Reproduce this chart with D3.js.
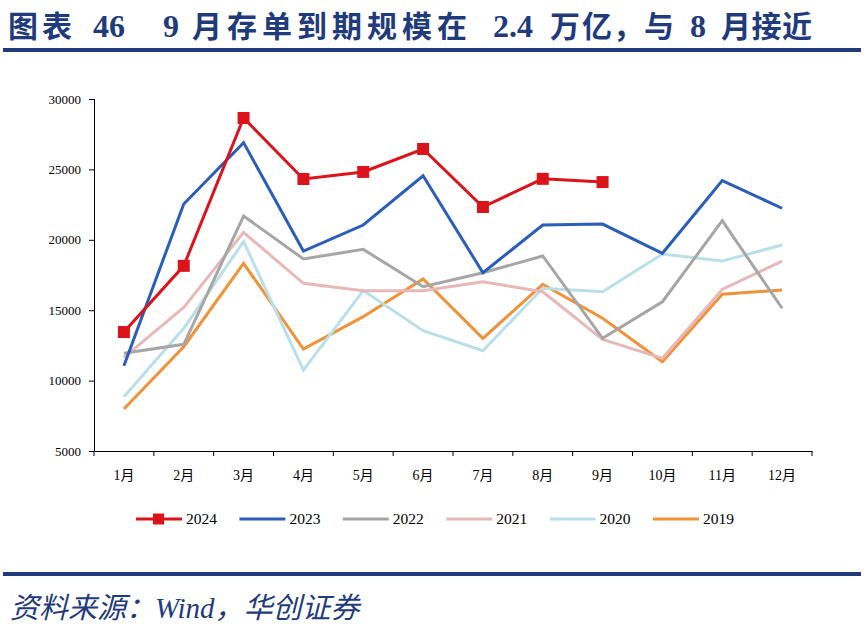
<!DOCTYPE html>
<html><head><meta charset="utf-8">
<script src="https://cdn.jsdelivr.net/npm/d3@7"></script>
<style>body{margin:0;background:#fff;} svg{display:block;} text{white-space:pre;}</style>
</head><body>
<script>
const months = ["1月","2月","3月","4月","5月","6月","7月","8月","9月","10月","11月","12月"];
const yTicks = [5000,10000,15000,20000,25000,30000];
const years = ["2024","2023","2022","2021","2020","2019"];
const colors = ["#DB141C","#2A5EB8","#A6A6A6","#E6B9B8","#B9DFE8","#F09239"];
const v2024 = [13450,18150,28650,24320,24820,26450,22330,24330,24100];
const v2023 = [11060,22540,26900,19200,21050,24550,17660,21050,21120,19040,24200,22240];
const v2022 = [11940,12580,21690,18640,19320,16670,17660,18850,13000,15600,21360,15140];
const v2021 = [11650,15200,20530,16910,16390,16390,17020,16310,12930,11580,16480,18490];
const v2020 = [8860,13710,19870,10750,16390,13540,12120,16560,16310,18990,18490,19630];
const v2019 = [7980,12410,18330,12240,14540,17220,13000,16840,14430,11340,16130,16440];
const seriesValues = [v2024,v2023,v2022,v2021,v2020,v2019];
const titleParts = ["图表","46","9","月存单到期规模在","2.4","万亿","，","与","8","月接近"];
const titleX = [8,93,163,192,493,550,613,644,690,721];
const titleSpacing = [4,0,0,5,0,2,0,0,0,0.5];

const W=867,H=631;
const svg=d3.select("body").append("svg").attr("width",W).attr("height",H);
const navy="#1F3B7B";
const tt=svg.append("text").attr("y",37)
  .attr("font-family","'Liberation Serif','Noto Sans CJK SC',serif").attr("font-weight","bold")
  .attr("font-size",30).attr("fill",navy);
titleParts.forEach((s,i)=>{
  tt.append("tspan").attr("x",titleX[i]).style("letter-spacing",titleSpacing[i]+"px")
    .attr("font-size",/[0-9]/.test(s)?32:30).text(s);
});
svg.append("rect").attr("x",3).attr("y",48).attr("width",858).attr("height",4).attr("fill",navy);
svg.append("rect").attr("x",3).attr("y",572).attr("width",858).attr("height",4).attr("fill",navy);
svg.append("text").attr("x",10).attr("y",618)
  .attr("font-family","'Liberation Serif','Noto Sans CJK SC',serif").attr("font-style","italic")
  .attr("font-size",29).attr("fill",navy)
  .text("资料来源：Wind，华创证券");

const x=d3.scaleBand().domain(months).range([94,812]);
const y=d3.scaleLinear().domain([5000,30000]).range([451,99]);
const font="'Liberation Serif','Times New Roman',serif";

const ya=svg.append("g").attr("transform","translate(94,0)")
  .call(d3.axisLeft(y).tickValues(yTicks).tickSize(5).tickPadding(8).tickFormat(d3.format("d")));
ya.selectAll("text").attr("font-family",font).attr("font-size",13).attr("fill","#000");
ya.selectAll("line,path").attr("stroke","#000");
ya.select(".domain").attr("d","M0.5,451V99");

const xa=svg.append("g").attr("transform","translate(0,451)")
  .call(d3.axisBottom(x).tickSize(0).tickPadding(19));
xa.selectAll("text").attr("font-family","'Liberation Serif','Noto Sans CJK SC',serif").attr("font-size",14).attr("fill","#000");
xa.select(".domain").attr("stroke","#000");
xa.selectAll(".tick line").remove();
xa.selectAll(".bnd").data(months.concat(["end"])).enter().append("line")
  .attr("x1",(d,i)=>i<12?x(d):x.range()[1]).attr("x2",(d,i)=>i<12?x(d):x.range()[1])
  .attr("y1",0).attr("y2",5).attr("stroke","#000");

const line=d3.line().x((d,i)=>x(months[i])+x.bandwidth()/2).y(d=>y(d));
for(let k=years.length-1;k>=0;k--){
  svg.append("path").datum(seriesValues[k]).attr("d",line).attr("fill","none")
    .attr("stroke",colors[k]).attr("stroke-width",3).attr("stroke-linejoin","miter");
}
svg.selectAll(".m").data(v2024).enter().append("rect")
  .attr("x",(d,i)=>x(months[i])+x.bandwidth()/2-6).attr("y",d=>y(d)-6)
  .attr("width",12).attr("height",12).attr("fill",colors[0]);

const lg=svg.append("g");
years.forEach((yr,i)=>{
  const lx=136+i*103.4;
  lg.append("line").attr("x1",lx).attr("x2",lx+46).attr("y1",519).attr("y2",519)
    .attr("stroke",colors[i]).attr("stroke-width",3);
  if(i===0) lg.append("rect").attr("x",lx+17).attr("y",513.5).attr("width",11).attr("height",11).attr("fill",colors[0]);
  lg.append("text").attr("x",lx+50).attr("y",524).attr("font-family",font).attr("font-size",15.5).attr("fill","#000").text(yr);
});
</script>
</body></html>
